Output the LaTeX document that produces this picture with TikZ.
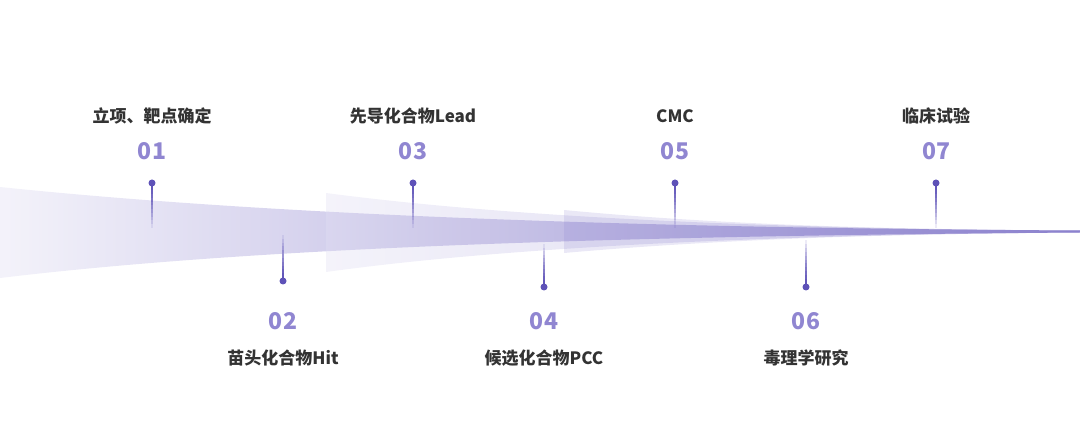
\documentclass[tikz,border=0pt]{standalone}
\usepackage{fontspec}
\setmainfont{Noto Sans CJK SC}
\usetikzlibrary{calc}
\definecolor{lav}{HTML}{8C82CE}
\definecolor{numc}{HTML}{9086D1}
\definecolor{dotc}{HTML}{5E52B8}
\definecolor{txtc}{HTML}{333333}
\tikzset{
  stage/.style={font=\fontsize{17}{20}\selectfont\bfseries,text=txtc,inner sep=0pt},
  num/.style={font=\fontsize{23}{26}\selectfont\bfseries,text=numc,inner sep=0pt},
  pin/.style={circle,fill=dotc,inner sep=0pt,minimum size=7pt},
  stem/.style={draw=dotc,line width=1.2pt}
}
\newcommand\stemline[2]{\foreach \k in {0,...,11}{\pgfmathsetmacro\op{1-(\k/12)^1.4}
  \draw[stem,opacity=\op] ($(#1.center)!\k/12!(#2)$) -- ($(#1.center)!{(\k+1)/12}!(#2)$);}}
\begin{document}
\begin{tikzpicture}[x=1pt,y=-1pt]
\useasboundingbox (0,0) rectangle (1080,443);
\shade[left color=lav!10,middle color=lav!72,right color=lav] (0,187) .. controls (250,213) and (600,228) .. (1080,230.5) -- (1080,232.5) .. controls (600,236) and (250,248) .. (0,278) -- cycle;
\shade[left color=lav!25,middle color=lav!90,right color=lav,opacity=0.38] (326,193) .. controls (500,216) and (750,229) .. (1080,230.5) -- (1080,232.5) .. controls (750,235) and (500,248) .. (326,272) -- cycle;
\fill[lav,opacity=0.18] (564,210) .. controls (700,223) and (860,229.5) .. (1080,230.5) -- (1080,232.5) .. controls (860,234) and (700,241) .. (564,253) -- cycle;
\coordinate (e1) at (152,228);\coordinate (e2) at (283,235);\coordinate (e3) at (413,228);
\coordinate (e4) at (544,244);\coordinate (e5) at (675,228);\coordinate (e6) at (806,240);
\coordinate (e7) at (936,228);
\node[pin] (d1) at (152,183) {};\node[pin] (d2) at (283,281) {};\node[pin] (d3) at (413,183) {};
\node[pin] (d4) at (544,287) {};\node[pin] (d5) at (675,183) {};\node[pin] (d6) at (806,287) {};
\node[pin] (d7) at (936,183) {};
\stemline{d1}{e1}\stemline{d2}{e2}\stemline{d3}{e3}\stemline{d4}{e4}
\stemline{d5}{e5}\stemline{d6}{e6}\stemline{d7}{e7}
\node[num] (n1) at (152,151) {01};\node[stage] (s1) at (152,116) {立项、靶点确定};
\node[num] (n2) at (283,321) {02};\node[stage] (s2) at (283,358) {苗头化合物Hit};
\node[num] (n3) at (413,151) {03};\node[stage] (s3) at (413,116) {先导化合物Lead};
\node[num] (n4) at (544,321) {04};\node[stage] (s4) at (544,358) {候选化合物PCC};
\node[num] (n5) at (675,151) {05};\node[stage] (s5) at (675,116) {CMC};
\node[num] (n6) at (806,321) {06};\node[stage] (s6) at (806,358) {毒理学研究};
\node[num] (n7) at (936,151) {07};\node[stage] (s7) at (936,116) {临床试验};
\end{tikzpicture}
\end{document}
